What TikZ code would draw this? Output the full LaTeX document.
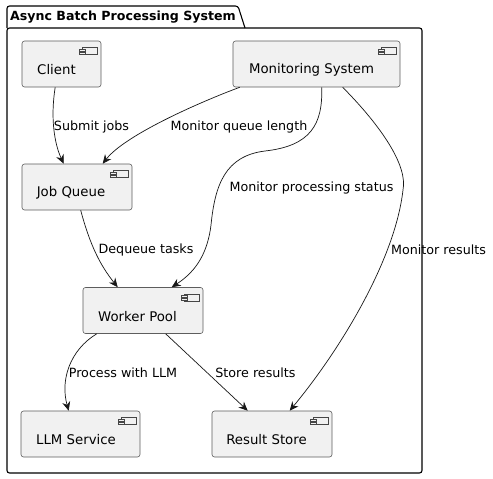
\documentclass[tikz,border=0pt]{standalone}
\usepackage{fontspec}
\setmainfont{DejaVu Sans}
\usetikzlibrary{arrows.meta,calc}
\definecolor{boxfill}{HTML}{F1F1F1}
\definecolor{boxline}{HTML}{181818}
\definecolor{edgecol}{HTML}{181818}
\tikzset{
  comp/.style={draw=boxline!70, line width=0.6pt, fill=boxfill, rounded corners=2.5pt, inner sep=0pt, minimum height=46pt},
  compname/.style={font=\fontsize{13.3}{16}\selectfont, inner sep=0pt, text=black},
  elabel/.style={font=\fontsize{12.7}{15}\selectfont, inner sep=0pt, text=black},
  conn/.style={draw=edgecol, line width=0.7pt, -{Stealth[length=9pt,width=8pt,inset=3pt]}},
  iconline/.style={draw=boxline!80, line width=0.5pt, fill=boxfill},
}
\newcommand\cmpicon[1]{%
  \draw[iconline] ($(#1.north east)+(-19,7)$) rectangle ($(#1.north east)+(-4,14)$);
  \draw[iconline] ($(#1.north east)+(-22,8.5)$) rectangle ($(#1.north east)+(-16,10.5)$);
  \draw[iconline] ($(#1.north east)+(-22,11.5)$) rectangle ($(#1.north east)+(-16,13.5)$);
}
\begin{document}
\begin{tikzpicture}[x=1pt,y=-1pt]
\useasboundingbox[fill=white] (0,0) rectangle (493,479);
% package frame
\draw[line width=1.1pt, rounded corners=2.5pt] (7,28) rectangle (422,473);
\draw[line width=1.1pt, rounded corners=2.5pt] (7,28) -- (7,6) -- (238,6) -- (245,28);
\node[anchor=west, inner sep=0pt, font=\fontsize{12.6}{15}\bfseries\selectfont] (title) at (10,17) {Async Batch Processing System};
% components
\node[comp, minimum width=79pt] (client) at (61.5,64) {};
\node[comp, minimum width=167pt] (monitor) at (316.5,64) {};
\node[comp, minimum width=110pt] (queue) at (77,187) {};
\node[comp, minimum width=120pt] (worker) at (143,310.5) {};
\node[comp, minimum width=119pt] (llm) at (80.5,434) {};
\node[comp, minimum width=120pt] (store) at (272,434) {};
\cmpicon{client}\cmpicon{monitor}\cmpicon{queue}\cmpicon{worker}\cmpicon{llm}\cmpicon{store}
\node[compname] (clientT) at (56.5,70) {Client};
\node[compname] (monitorT) at (311.5,70) {Monitoring System};
\node[compname] (queueT) at (71,193) {Job Queue};
\node[compname] (workerT) at (137.5,317) {Worker Pool};
\node[compname] (llmT) at (76,440) {LLM Service};
\node[compname] (storeT) at (266.5,440) {Result Store};
% connectors
\draw[conn] ([xshift=33.5pt]client.south west) .. controls (50,120) and (55,145) .. ([xshift=42pt]queue.north west);
\draw[conn] ([xshift=7pt]monitor.south west) .. controls (200,102) and (125,135) .. ([xshift=81pt]queue.north west);
\draw[conn] ([xshift=89pt]monitor.south west) .. controls (323,125) and (310,146) .. (265,151)
   .. controls (225,156) and (215,185) .. (211,225) .. controls (207,258) and (192,274) .. ([xshift=89pt]worker.north west);
\draw[conn] ([xshift=110pt]monitor.south west) .. controls (380,125) and (408,165) .. (403,190)
   .. controls (395,260) and (340,350) .. ([xshift=78pt]store.north west);
\draw[conn] ([xshift=59pt]queue.south west) .. controls (90,245) and (100,265) .. ([xshift=35pt]worker.north west);
\draw[conn] ([xshift=14pt]worker.south west) .. controls (70,350) and (60,380) .. ([xshift=48pt]llm.north west);
\draw[conn] ([xshift=83pt]worker.south west) -- ([xshift=36pt]store.north west);
% labels
\node[elabel] (l1) at (91.5,127) {Submit jobs};
\node[elabel] (l2) at (239,127) {Monitor queue length};
\node[elabel] (l3) at (311.5,188) {Monitor processing status};
\node[elabel] (l4) at (438.5,250) {Monitor results};
\node[elabel] (l5) at (146,250) {Dequeue tasks};
\node[elabel] (l6) at (123,373) {Process with LLM};
\node[elabel] (l7) at (255.5,373) {Store results};
\end{tikzpicture}
\end{document}
